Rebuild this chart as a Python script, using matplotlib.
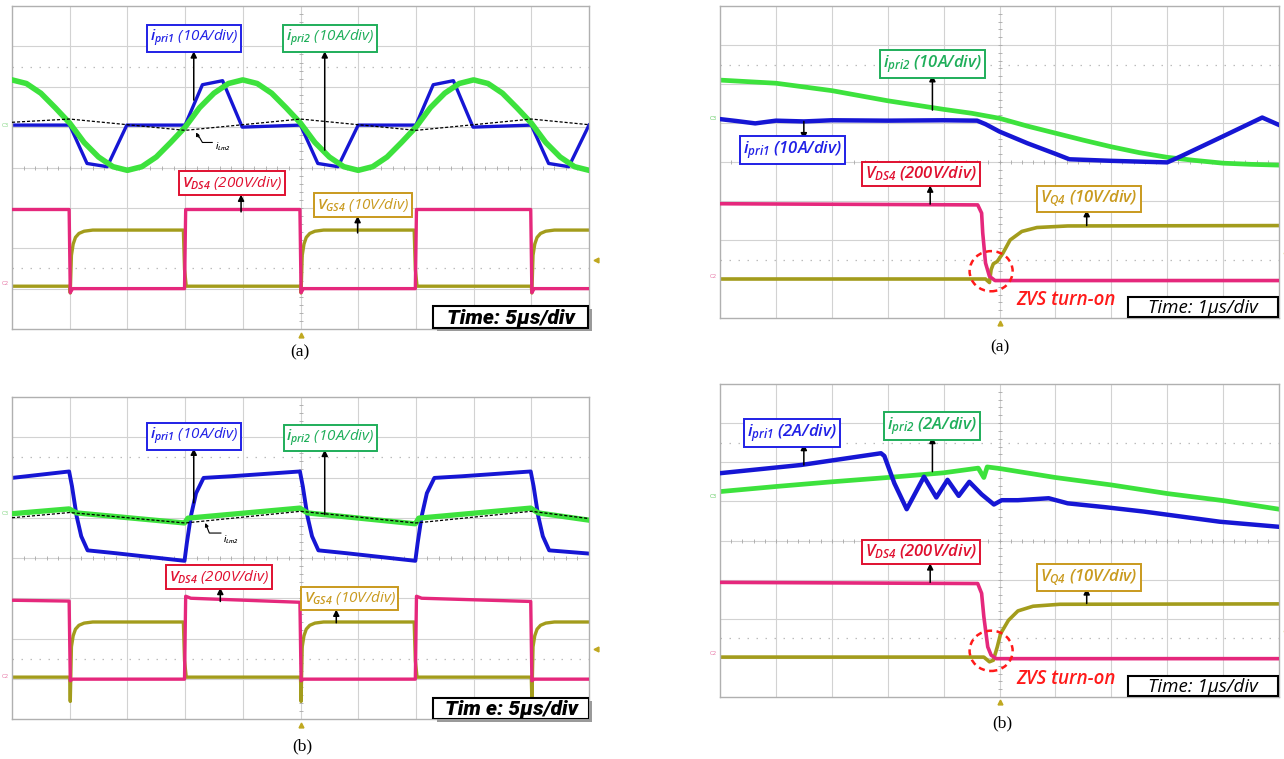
import numpy as np
import matplotlib
matplotlib.use('Agg')
import matplotlib.pyplot as plt
from matplotlib.patches import Ellipse, Rectangle

plt.rcParams['mathtext.fontset'] = 'custom'
plt.rcParams['mathtext.it'] = 'Open Sans:italic:semibold'
plt.rcParams['mathtext.rm'] = 'Open Sans:italic:semibold'
plt.rcParams['mathtext.bf'] = 'Open Sans:bold'

# ---------------- colours ----------------
C_BLUE = '#1616d4'
C_GREEN = '#3de23d'
C_MAG = '#e5287c'
C_OLIVE = '#a39c1c'
L_BLUE = '#2020e6'
L_GREEN = '#1fae5a'
L_RED = '#e01030'
L_GOLD = '#c99a1e'
GRID = '#d2d2d2'

# ---------------- data: top-left (a) 5us/div ----------------
tl_blue_x = [0, 1.0, 1.3, 1.65, 1.99, 3.0, 3.3, 3.65, 3.99, 5.0, 5.3, 5.65, 6.0, 7.0, 7.3, 7.65, 7.99, 9.0, 9.3, 9.65, 10.0]
tl_blue_y = [5.05, 5.05, 4.1, 4.02, 5.05, 5.05, 6.05, 6.15, 5.0, 5.05, 4.1, 4.02, 5.05, 5.05, 6.05, 6.15, 5.0, 5.05, 4.1, 4.02, 5.05]
tl_green_x = list(np.arange(0, 10.01, 0.25))
tl_green_y = [6.17, 6.08, 5.84, 5.48, 5.10, 4.62, 4.26, 4.02, 3.93, 4.02, 4.26, 4.62, 5.00, 5.48, 5.84, 6.08, 6.17,
              6.08, 5.84, 5.48, 5.10, 4.62, 4.26, 4.02, 3.93, 4.02, 4.26, 4.62, 5.00, 5.48, 5.84, 6.08, 6.17,
              6.08, 5.84, 5.48, 5.10, 4.62, 4.26, 4.02, 3.93]
tl_lm_x = [0, 1, 3, 5, 7, 9, 10]
tl_lm_y = [5.12, 5.2, 4.92, 5.2, 4.92, 5.2, 5.06]
tl_mag_x = [0, 0.99, 1.01, 1.05, 2.99, 3.01, 4.99, 5.01, 5.05, 6.99, 7.01, 8.99, 9.01, 9.05, 10]
tl_mag_y = [2.96, 2.96, 0.9, 1.0, 1.0, 2.96, 2.96, 0.9, 1.0, 1.0, 2.96, 2.96, 0.9, 1.0, 1.0]
tl_gate_rises = [1.0, 5.0, 9.0]
tl_gate_falls = [2.97, 6.97]
tl_gate_low, tl_gate_high, tl_gate_dip = 1.06, 2.45, -0.12

# ---------------- data: bottom-left (b) 5us/div ----------------
bl_blue_x = [0, 0.99, 1.04, 1.12, 1.2, 1.31, 1.79, 2.99, 3.03, 3.1, 3.19, 3.32, 3.79, 4.99, 5.04, 5.12, 5.2, 5.31,
             5.79, 6.99, 7.03, 7.1, 7.19, 7.32, 7.79, 8.99, 9.04, 9.12, 9.2, 9.31, 10.0]
bl_blue_y = [5.99, 6.15, 5.78, 5.04, 4.54, 4.19, 4.12, 3.93, 4.37, 5.04, 5.61, 5.99, 6.03, 6.15, 5.78, 5.04, 4.54, 4.19,
             4.12, 3.93, 4.37, 5.04, 5.61, 5.99, 6.03, 6.15, 5.78, 5.04, 4.54, 4.19, 4.11]
bl_green_x = [0, 0.99, 1.12, 2.99, 3.05, 4.99, 5.12, 6.99, 7.05, 8.99, 9.12, 10.0]
bl_green_y = [5.1, 5.22, 5.12, 4.87, 4.99, 5.24, 5.12, 4.85, 4.99, 5.24, 5.12, 4.94]
bl_lm_x = [0, 1, 3, 5, 7, 9, 10]
bl_lm_y = [5.0, 5.13, 4.87, 5.16, 4.87, 5.16, 4.98]
bl_mag_x = [0, 0.99, 1.01, 1.05, 2.99, 3.01, 3.1, 4.99, 5.01, 5.05, 6.99, 7.01, 7.1, 8.99, 9.01, 9.05, 10]
bl_mag_y = [2.95, 2.93, 0.95, 0.99, 0.99, 3.05, 3.0, 2.9, 0.95, 0.99, 0.99, 3.05, 3.0, 2.92, 0.95, 0.99, 0.99]
bl_gate_rises = [1.0, 5.0, 9.0]
bl_gate_falls = [2.97, 6.97]
bl_gate_low, bl_gate_high, bl_gate_dip = 1.04, 2.41, -0.44

# gate-drive rise / fall edge shape (fraction of swing vs. time after edge, div)
rise_dx = [0.0, 0.01, 0.03, 0.06, 0.1, 0.16, 0.25, 0.4]
rise_fr = [0.0, None, 0.55, 0.75, 0.87, 0.94, 0.98, 1.0]
fall_dx = [0.0, 0.02, 0.05]
fall_fr = [1.0, 0.3, 0.0]

# ---------------- data: top-right (a) 1us/div ----------------
tr_green_x = [0, 1, 2, 3, 4, 4.5, 5, 5.5, 6, 6.5, 7, 7.5, 8, 8.5, 9, 9.5, 10]
tr_green_y = [6.10, 6.02, 5.83, 5.57, 5.35, 5.25, 5.12, 4.92, 4.74, 4.56, 4.39, 4.24, 4.12, 4.04, 3.97, 3.94, 3.92]
tr_blue_x = [0, 0.3, 0.63, 1.0, 1.5, 2.0, 3.0, 4.0, 4.6, 4.75, 5.0, 5.5, 6.0, 6.25, 7.0, 7.5, 8.0, 8.25, 9.0, 9.7, 10.0]
tr_blue_y = [5.1, 5.05, 4.99, 5.06, 5.04, 5.07, 5.06, 5.07, 5.06, 4.97, 4.78, 4.48, 4.21, 4.07, 4.03, 4.01, 3.99, 4.15, 4.66, 5.14, 4.95]
tr_mag_x = [0, 4.61, 4.68, 4.70, 4.75, 4.82, 4.92, 10]
tr_mag_y = [2.93, 2.9, 2.69, 2.18, 1.41, 1.07, 0.96, 0.96]
tr_yel_x = [0, 4.75, 4.82, 4.85, 4.89, 4.96, 5.06, 5.19, 5.4, 5.67, 6.22, 10]
tr_yel_y = [1.0, 1.0, 0.91, 1.24, 1.39, 1.45, 1.66, 2.0, 2.22, 2.32, 2.36, 2.37]

# ---------------- data: bottom-right (b) 1us/div ----------------
br_blue_x = [0, 1.45, 2.88, 2.94, 3.12, 3.34, 3.65, 3.87, 4.07, 4.27, 4.46, 4.68, 4.9, 5.04, 5.33, 5.88, 6.22,
             6.9, 7.58, 8.26, 8.94, 10.0]
br_blue_y = [5.72, 5.93, 6.23, 6.16, 5.46, 4.8, 5.63, 5.1, 5.55, 5.14, 5.5, 5.18, 4.92, 5.03, 5.03, 5.08, 4.95,
             4.85, 4.74, 4.61, 4.48, 4.35]
br_green_x = [0, 1, 2, 3, 4, 4.62, 4.72, 4.78, 5.0, 6, 7, 8, 9, 10]
br_green_y = [5.25, 5.38, 5.50, 5.61, 5.73, 5.85, 5.61, 5.88, 5.84, 5.61, 5.42, 5.2, 5.02, 4.80]
br_mag_x = [0, 4.61, 4.68, 4.72, 4.79, 4.85, 4.94, 10]
br_mag_y = [2.93, 2.9, 2.65, 2.05, 1.28, 1.07, 0.98, 0.98]
br_yel_x = [0, 4.72, 4.82, 4.89, 4.96, 5.02, 5.16, 5.33, 5.6, 6.08, 10]
br_yel_y = [1.02, 1.02, 0.9, 0.94, 1.28, 1.62, 1.96, 2.2, 2.32, 2.37, 2.38]

# ---------------- figure ----------------
W, H = 1284, 759
fig = plt.figure(figsize=(W / 100, H / 100), dpi=100)


def make_ax(x0, y0, x1, y1):
    ax = fig.add_axes([x0 / W, 1 - y1 / H, (x1 - x0) / W, (y1 - y0) / H])
    ax.set_xlim(0, 10)
    ax.set_ylim(0, 8)
    ax.set_xticks([])
    ax.set_yticks([])
    for s in ax.spines.values():
        s.set_color('#b0b0b0')
        s.set_linewidth(1.0)
    for gx in range(1, 10):
        ax.axvline(gx, color=GRID, lw=0.8, zorder=0)
    for gy in range(1, 8):
        ax.axhline(gy, color=GRID, lw=0.8, zorder=0)
    for gy in (1.5, 6.5):
        ax.axhline(gy, color='#bcbcbc', lw=0.9, ls=(0, (1.2, 6)), zorder=0)
    tp = np.arange(0.2, 10, 0.2)
    ax.plot(tp, np.full_like(tp, 4.0), ls='none', marker='|', ms=3, mew=0.6, color='#a8a8a8', zorder=0)
    tq = np.arange(0.2, 8, 0.2)
    ax.plot(np.full_like(tq, 5.0), tq, ls='none', marker='_', ms=3, mew=0.6, color='#a8a8a8', zorder=0)
    return ax


def gate_trace(rises, falls, low, high, dip):
    events = sorted([(t, 'r') for t in rises] + [(t, 'f') for t in falls])
    xs, ys = [0.0], [low if events[0][1] == 'r' else high]
    for t, kind in events:
        if kind == 'r':
            for dx, fr in zip(rise_dx, rise_fr):
                xs.append(t + dx)
                ys.append(low + (high - low) * (dip if fr is None else fr))
        else:
            for dx, fr in zip(fall_dx, fall_fr):
                xs.append(t + dx)
                ys.append(low + (high - low) * fr)
    xs.append(10.0)
    ys.append(ys[-1])
    return xs, ys


def label(ax, x, y, txt, col, size, weight):
    ax.text(x, y, txt, ha='center', va='center', color=col, fontsize=size, fontstyle='italic',
            fontweight=weight, family='Open Sans', zorder=8,
            bbox=dict(boxstyle='square,pad=0.18', fc='white', ec=col, lw=1.4))


def arrow(ax, x, y_tail, y_head):
    ax.annotate('', xy=(x, y_head), xytext=(x, y_tail), zorder=7,
                arrowprops=dict(arrowstyle='-|>', color='black', lw=1.1, mutation_scale=9,
                                shrinkA=0, shrinkB=0))


def time_box(ax, x0, x1, y0, y1, txt, shadow, **kw):
    if shadow:
        ax.add_patch(Rectangle((x0 + 0.06, y0 - 0.07), x1 - x0, y1 - y0, fc='#9a9a9a', ec='none', zorder=5,
                               clip_on=False))
    ax.add_patch(Rectangle((x0, y0), x1 - x0, y1 - y0, fc='white', ec='black', lw=1.5, zorder=6))
    ax.text((x0 + x1) / 2, (y0 + y1) / 2 - 0.02, txt, ha='center', va='center', zorder=7, **kw)


def markers(ax, c3, c2, tri_y, c3col):
    ax.text(-0.05, c3, 'C3', color=c3col, fontsize=4, ha='right', va='center', clip_on=False)
    ax.text(-0.05, c2, 'C2', color='#e87aa8', fontsize=4, ha='right', va='center', clip_on=False)
    ax.plot([10.12], [tri_y], marker='<', ms=3.5, color='#c0a820', clip_on=False)
    ax.plot([5.0], [-0.14], marker='^', ms=3.5, color='#c0a820', clip_on=False)


TL_TIME_FONT = dict(fontsize=15, fontweight='black', fontstyle='italic', family=['Roboto', 'DejaVu Sans'])

# ===== top-left =====
ax = make_ax(12, 6, 589, 329)
ax.plot(tl_blue_x, tl_blue_y, color=C_BLUE, lw=2.4, zorder=2)
ax.plot(tl_green_x, tl_green_y, color=C_GREEN, lw=4.0, zorder=3)
ax.plot(tl_lm_x, tl_lm_y, color='black', lw=0.9, ls=(0, (2.5, 1.5)), zorder=4)
gx, gy = gate_trace(tl_gate_rises, tl_gate_falls, tl_gate_low, tl_gate_high, tl_gate_dip)
ax.plot(gx, gy, color=C_OLIVE, lw=2.4, zorder=2)
ax.plot(tl_mag_x, tl_mag_y, color=C_MAG, lw=2.4, zorder=3)
label(ax, 3.16, 7.19, r'$i_{\mathit{pri1}}$ (10A/div)', L_BLUE, 11, 'normal')
label(ax, 5.51, 7.19, r'$i_{\mathit{pri2}}$ (10A/div)', L_GREEN, 11, 'normal')
label(ax, 3.81, 3.61, r'$V_{\mathit{DS4}}$ (200V/div)', L_RED, 11, 'normal')
label(ax, 6.08, 3.07, r'$V_{\mathit{GS4}}$ (10V/div)', L_GOLD, 11, 'normal')
arrow(ax, 3.15, 5.67, 6.88)
arrow(ax, 5.42, 4.43, 6.88)
arrow(ax, 3.97, 2.9, 3.33)
arrow(ax, 5.99, 2.38, 2.8)
ax.plot([3.47, 3.3, 3.22], [4.62, 4.62, 4.82], color='black', lw=0.8, zorder=5)
ax.annotate('', xy=(3.19, 4.87), xytext=(3.23, 4.75), arrowprops=dict(arrowstyle='-|>', color='black', lw=0.8,
            mutation_scale=5, shrinkA=0, shrinkB=0), zorder=5)
ax.text(3.52, 4.45, r'$i_{Lm2}$', fontsize=6, color='black', zorder=5)
time_box(ax, 7.3, 9.99, 0.02, 0.56, 'Time: 5μs/div', True, **TL_TIME_FONT)
markers(ax, 5.05, 1.12, 1.7, '#88d888')

# ===== bottom-left =====
ax = make_ax(12, 397, 589, 719)
ax.plot(bl_blue_x, bl_blue_y, color=C_BLUE, lw=2.8, zorder=2)
ax.plot(bl_green_x, bl_green_y, color=C_GREEN, lw=3.8, zorder=3)
ax.plot(bl_lm_x, bl_lm_y, color='black', lw=0.9, ls=(0, (2.5, 1.5)), zorder=4)
gx, gy = gate_trace(bl_gate_rises, bl_gate_falls, bl_gate_low, bl_gate_high, bl_gate_dip)
ax.plot(gx, gy, color=C_OLIVE, lw=2.4, zorder=2)
ax.plot(bl_mag_x, bl_mag_y, color=C_MAG, lw=2.4, zorder=3)
label(ax, 3.16, 7.02, r'$i_{\mathit{pri1}}$ (10A/div)', L_BLUE, 11, 'normal')
label(ax, 5.52, 6.98, r'$i_{\mathit{pri2}}$ (10A/div)', L_GREEN, 11, 'normal')
label(ax, 3.59, 3.53, r'$V_{\mathit{DS4}}$ (200V/div)', L_RED, 11, 'normal')
label(ax, 5.85, 3.0, r'$V_{\mathit{GS4}}$ (10V/div)', L_GOLD, 11, 'normal')
arrow(ax, 3.15, 5.37, 6.72)
arrow(ax, 5.42, 5.08, 6.69)
arrow(ax, 3.61, 2.92, 3.26)
arrow(ax, 5.62, 2.39, 2.72)
ax.plot([3.62, 3.42, 3.37], [4.62, 4.62, 4.8], color='black', lw=0.8, zorder=5)
ax.annotate('', xy=(3.35, 4.87), xytext=(3.38, 4.76), arrowprops=dict(arrowstyle='-|>', color='black', lw=0.8,
            mutation_scale=5, shrinkA=0, shrinkB=0), zorder=5)
ax.text(3.66, 4.38, r'$i_{Lm2}$', fontsize=6, color='black', zorder=5)
time_box(ax, 7.3, 10.0, 0.0, 0.52, 'Tim e: 5μs/div', True, **TL_TIME_FONT)
markers(ax, 5.1, 1.05, 1.75, '#88d888')

# ===== top-right =====
ax = make_ax(720, 6, 1279, 318)
ax.plot(tr_green_x, tr_green_y, color=C_GREEN, lw=3.4, zorder=2)
ax.plot(tr_blue_x, tr_blue_y, color=C_BLUE, lw=3.2, zorder=3)
ax.plot(tr_yel_x, tr_yel_y, color=C_OLIVE, lw=2.6, zorder=2)
ax.plot(tr_mag_x, tr_mag_y, color=C_MAG, lw=2.6, zorder=3)
label(ax, 3.8, 6.52, r'$i_{\mathit{pri2}}$ (10A/div)', L_GREEN, 12, 'semibold')
label(ax, 1.29, 4.3, r'$i_{\mathit{pri1}}$ (10A/div)', L_BLUE, 12, 'semibold')
label(ax, 3.6, 3.69, r'$V_{\mathit{DS4}}$ (200V/div)', L_RED, 12, 'semibold')
label(ax, 6.6, 3.05, r'$V_{\mathit{Q4}}$ (10V/div)', L_GOLD, 12, 'semibold')
arrow(ax, 3.8, 5.33, 6.23)
arrow(ax, 1.5, 5.04, 4.58)
arrow(ax, 3.76, 2.92, 3.4)
arrow(ax, 6.56, 2.37, 2.77)
ax.add_patch(Ellipse((4.85, 1.2), 0.77, 1.03, fill=False, ec='#ff1a1a', lw=1.8, ls=(0, (2.5, 1.8)), zorder=6))
ax.text(5.3, 0.47, 'ZVS turn-on', color='#ff1a1a', fontsize=13.5, fontstyle='italic', fontweight='semibold',
        family='Open Sans', va='center', ha='left', zorder=7)
time_box(ax, 7.29, 9.98, 0.02, 0.53, 'Time: 1μs/div', False, fontsize=13.5, fontstyle='italic',
         family='Open Sans')
markers(ax, 5.12, 1.07, 1.67, '#66cc66')

# ===== bottom-right =====
ax = make_ax(720, 384, 1279, 697)
ax.plot(br_green_x, br_green_y, color=C_GREEN, lw=3.4, zorder=2)
ax.plot(br_blue_x, br_blue_y, color=C_BLUE, lw=3.2, zorder=3)
ax.plot(br_yel_x, br_yel_y, color=C_OLIVE, lw=2.6, zorder=2)
ax.plot(br_mag_x, br_mag_y, color=C_MAG, lw=2.6, zorder=3)
label(ax, 1.29, 6.75, r'$i_{\mathit{pri1}}$ (2A/div)', L_BLUE, 12, 'semibold')
label(ax, 3.79, 6.93, r'$i_{\mathit{pri2}}$ (2A/div)', L_GREEN, 12, 'semibold')
label(ax, 3.6, 3.7, r'$V_{\mathit{DS4}}$ (200V/div)', L_RED, 12, 'semibold')
label(ax, 6.6, 3.06, r'$V_{\mathit{Q4}}$ (10V/div)', L_GOLD, 12, 'semibold')
arrow(ax, 1.5, 5.93, 6.47)
arrow(ax, 3.8, 5.76, 6.65)
arrow(ax, 3.76, 2.93, 3.42)
arrow(ax, 6.56, 2.39, 2.78)
ax.add_patch(Ellipse((4.85, 1.18), 0.77, 1.03, fill=False, ec='#ff1a1a', lw=1.8, ls=(0, (2.5, 1.8)), zorder=6))
ax.text(5.3, 0.47, 'ZVS turn-on', color='#ff1a1a', fontsize=13.5, fontstyle='italic', fontweight='semibold',
        family='Open Sans', va='center', ha='left', zorder=7)
time_box(ax, 7.29, 9.98, 0.02, 0.53, 'Time: 1μs/div', False, fontsize=13.5, fontstyle='italic',
         family='Open Sans')
markers(ax, 5.12, 1.1, 1.69, '#66cc66')

# ===== captions =====
for (px, py, t) in [(300, 352, '(a)'), (1000, 347, '(a)'), (302, 746, '(b)'), (1002, 723, '(b)')]:
    fig.text(px / W, 1 - py / H, t, ha='center', va='center', fontsize=12.5, family='Liberation Serif')

fig.savefig('out.png', dpi=100, facecolor='white')
